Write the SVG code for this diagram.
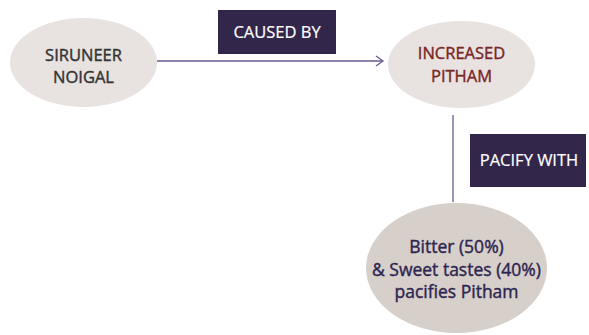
<svg xmlns="http://www.w3.org/2000/svg" width="589" height="335" viewBox="0 0 589 335">
<style>
.t{font-family:"Open Sans","Liberation Sans",sans-serif;font-size:16.5px;font-weight:400;text-anchor:middle;stroke-width:0.4}
.b{font-size:17.5px}
.lbl{fill:#32264a}
.lt{fill:#ffffff;stroke:#ffffff;stroke-width:0.2}
.d{fill:#333333;stroke:#333333}
.r{fill:#7a2626;stroke:#7a2626}
.p{fill:#2e2550;stroke:#2e2550}
.ln{stroke:#6a5a92;stroke-width:1.3;fill:none}
</style>
<defs>
<marker id="ah" markerWidth="10" markerHeight="12" refX="8" refY="6" orient="auto" markerUnits="userSpaceOnUse">
<path d="M1,1 L8,6 L1,11" fill="none" stroke="#6a5a92" stroke-width="1.3"/>
</marker>
</defs>
<rect width="589" height="335" fill="#ffffff"/>
<g id="connectors">
<line class="ln" x1="157" y1="61" x2="383" y2="61" marker-end="url(#ah)"/>
<line class="ln" x1="453" y1="115" x2="453" y2="202"/>
</g>
<g id="caused-by">
<rect class="lbl" x="218" y="10" width="118" height="44"/>
<text class="t lt" x="277" y="38">CAUSED BY</text>
</g>
<g id="pacify-with">
<rect class="lbl" x="470" y="134" width="116" height="53"/>
<text class="t lt" x="529" y="166">PACIFY WITH</text>
</g>
<g id="siruneer">
<ellipse cx="83.5" cy="62.5" rx="73.5" ry="44.5" fill="#e8e3e0"/>
<text class="t d" x="83.5" y="61">SIRUNEER</text>
<text class="t d" x="83.5" y="83">NOIGAL</text>
</g>
<g id="increased">
<ellipse cx="461.5" cy="64.5" rx="73.5" ry="43.5" fill="#e8e3e0"/>
<text class="t r" x="461.5" y="59">INCREASED</text>
<text class="t r" x="461.5" y="82">PITHAM</text>
</g>
<g id="bitter">
<ellipse cx="456.5" cy="268" rx="90.5" ry="65" fill="#d6cfca"/>
<text class="t b p" x="456.5" y="253">Bitter (50%)</text>
<text class="t b p" x="456.5" y="276">&amp; Sweet tastes (40%)</text>
<text class="t b p" x="456.5" y="298">pacifies Pitham</text>
</g>
</svg>
